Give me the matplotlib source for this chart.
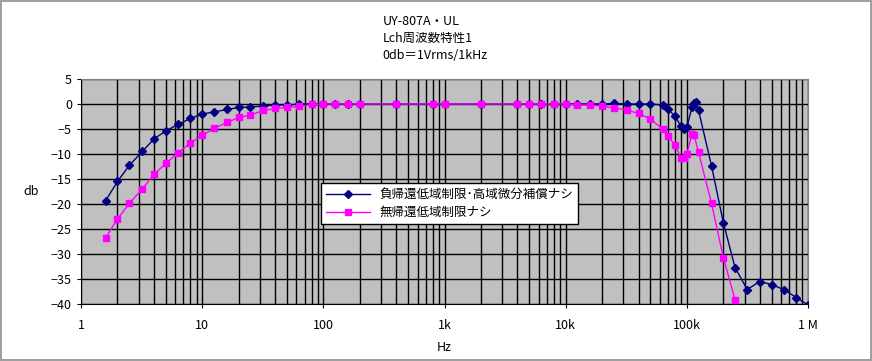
import matplotlib
matplotlib.use('Agg')
import matplotlib.pyplot as plt
from matplotlib.ticker import FixedLocator, LogLocator, NullFormatter

plt.rcParams['font.family'] = ['Noto Sans CJK JP', 'DejaVu Sans']

# 負帰還低域制限・高域微分補償ナシ
freq_a = [1.6, 2, 2.5, 3.2, 4, 5, 6.3, 8, 10, 12.5, 16, 20, 25, 32, 40, 50, 63, 80,
          100, 125, 160, 200, 400, 800, 1000, 2000, 4000, 5000, 6300, 8000, 10000,
          12500, 16000, 20000, 25000, 32000, 40000, 50000, 63000, 70000, 80000,
          90000, 95000, 100000, 110000, 115000, 118000, 125000, 160000, 200000,
          250000, 315000, 400000, 500000, 630000, 800000, 1000000]
db_a = [-19.3, -15.5, -12.3, -9.5, -7.0, -5.4, -4.1, -2.9, -2.0, -1.6, -1.1, -0.7,
        -0.6, -0.4, -0.2, -0.2, 0.0, 0.0, 0.0, 0.0, 0.0, 0.0, 0.0, 0.0, 0.0, 0.0,
        0.0, 0.0, 0.0, 0.0, 0.0, 0.0, 0.0, 0.0, 0.1, 0.0, 0.0, 0.0, -0.2, -1.0,
        -2.5, -4.5, -5.1, -4.7, -0.7, 0.1, 0.4, -1.3, -12.4, -23.7, -32.7, -37.1,
        -35.5, -36.1, -37.1, -38.7, -40.2]

# 無帰還低域制限ナシ
freq_b = [1.6, 2, 2.5, 3.2, 4, 5, 6.3, 8, 10, 12.5, 16, 20, 25, 32, 40, 50, 63, 80,
          100, 125, 160, 200, 400, 800, 1000, 2000, 4000, 5000, 6300, 8000, 10000,
          12500, 16000, 20000, 25000, 32000, 40000, 50000, 63000, 70000, 80000,
          90000, 95000, 100000, 110000, 115000, 125000, 160000, 200000, 250000,
          315000]
db_b = [-26.7, -23.0, -19.9, -17.0, -14.1, -11.9, -9.8, -7.8, -6.3, -4.9, -3.7, -2.7,
        -2.2, -1.3, -0.9, -0.7, -0.5, -0.1, 0.0, 0.0, 0.0, 0.0, 0.0, 0.0, 0.0, 0.0,
        0.0, 0.0, 0.0, 0.0, 0.0, -0.2, -0.2, -0.4, -0.8, -1.2, -1.9, -3.0, -5.0,
        -6.4, -8.3, -10.8, -10.9, -10.0, -6.1, -6.3, -9.7, -19.9, -30.7, -39.1,
        -44.0]

label_a = '負帰還低域制限･高域微分補償ナシ'
label_b = '無帰還低域制限ナシ'
x_ticks = [1, 10, 100, 1000, 10000, 100000, 1000000]
x_labels = ['1', '10', '100', '1k', '10k', '100k', '1 M']
y_ticks = list(range(-40, 6, 5))

fig = plt.figure(figsize=(8.72, 3.61), dpi=100)
fig.patch.set_edgecolor('#a0a0a0')
fig.patch.set_linewidth(1.5)
ax = fig.add_axes([81 / 872, 1 - 304 / 361, 727 / 872, 225 / 361])
ax.set_facecolor('#c0c0c0')

ax.plot(freq_a, db_a, color='#000080', linewidth=1, marker='D', markersize=4,
        label=label_a, zorder=3)
ax.plot(freq_b, db_b, color='#ff00ff', linewidth=1, marker='s', markersize=5,
        label=label_b, zorder=3)

ax.set_xscale('log')
ax.set_xlim(1, 1e6)
ax.set_ylim(-40, 5)
ax.xaxis.set_major_locator(FixedLocator(x_ticks))
ax.set_xticks(x_ticks)
ax.set_xticklabels(x_labels)
ax.xaxis.set_minor_locator(LogLocator(base=10, subs=range(2, 10), numticks=100))
ax.xaxis.set_minor_formatter(NullFormatter())
ax.set_yticks(y_ticks)
ax.grid(which='major', axis='both', color='black', linewidth=1)
ax.grid(which='minor', axis='x', color='black', linewidth=1)
ax.set_axisbelow(True)
for s in ax.spines.values():
    s.set_color('#808080')
ax.spines['left'].set_color('black')
ax.spines['bottom'].set_color('black')
ax.tick_params(axis='both', which='both', labelsize=9, length=3, direction='out')
ax.tick_params(axis='x', which='minor', length=0)
ax.tick_params(axis='x', pad=8)

ax.set_xlabel('Hz', fontsize=9, labelpad=6)
ax.set_ylabel('db', fontsize=9, rotation=0, labelpad=14, va='center')

fig.text(0.439, 0.94, 'UY-807A・UL', fontsize=9, ha='left', va='center')
fig.text(0.439, 0.894, 'Lch周波数特性1', fontsize=9, ha='left', va='center')
fig.text(0.439, 0.847, '0db＝1Vrms/1kHz', fontsize=9, ha='left', va='center')

leg = ax.legend(loc='upper left', bbox_to_anchor=(0.33, 0.538), borderaxespad=0,
                fancybox=False, framealpha=1, edgecolor='black', fontsize=9,
                handlelength=3.5, borderpad=0.4, labelspacing=0.4)
leg.get_frame().set_linewidth(1)

fig.savefig('out.png', dpi=100)
